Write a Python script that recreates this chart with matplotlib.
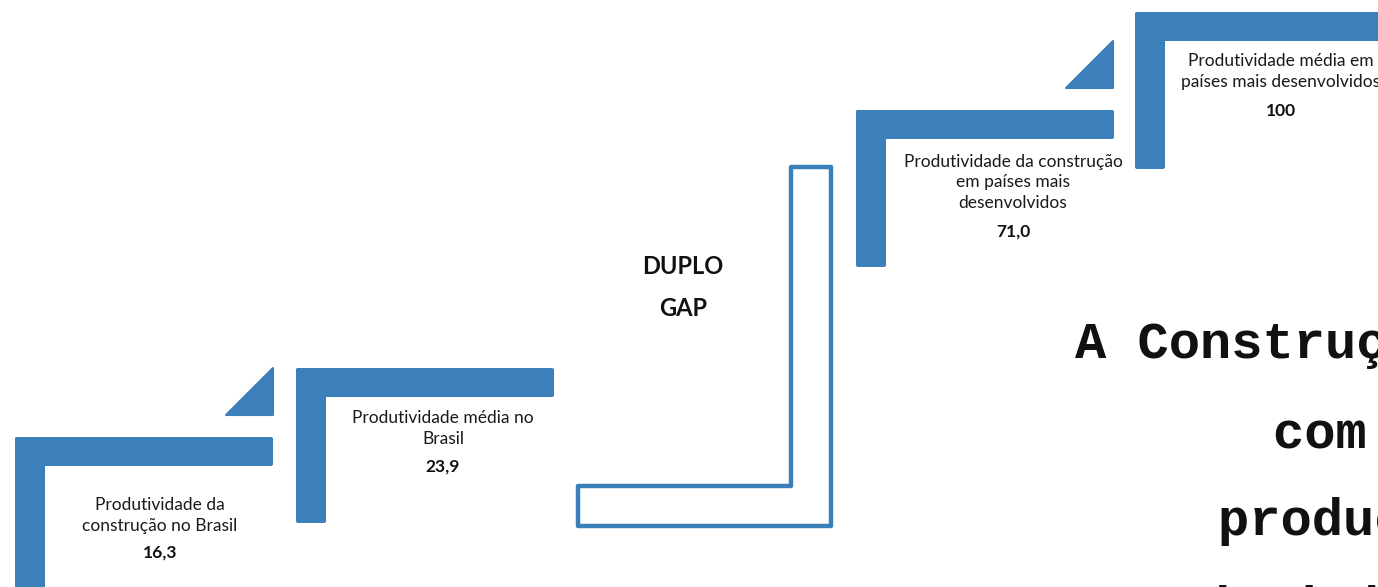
import matplotlib
matplotlib.use("Agg")
import matplotlib.pyplot as plt
from matplotlib.patches import Polygon, FancyBboxPatch

# ---- data ----
labels = [
    ["Produtividade da", "construção no Brasil"],
    ["Produtividade média no", "Brasil"],
    ["Produtividade da construção", "em países mais", "desenvolvidos"],
    ["Produtividade média em", "países mais desenvolvidos"],
]
values = ["16,3", "23,9", "71,0", "100"]
gap_label = ["DUPLO", "GAP"]
title_lines = ["A Construção Civil", "com baixa", "produção e", "produtividade"]

# ---- layout (pixel space) ----
W, H = 1378, 587
BLUE = "#3B80BB"
step_x = [15, 296, 856, 1135]          # left edge of each L
step_y = [437, 368, 110, 12]           # top edge of each L
step_bottom = [600, 523, 267, 169]     # bottom of vertical leg
arm_len = 258
thick_h = 29
thick_v = 30
label_first_y = [505, 418, 162, 61]
line_step = 20.5
value_gap = [27, 28, 29, 29]
label_cx = [160, 443, 1013, 1281]

fig = plt.figure(figsize=(W / 100, H / 100), dpi=100)
ax = fig.add_axes([0, 0, 1, 1])
ax.set_xlim(0, W)
ax.set_ylim(H, 0)
ax.axis("off")

def rbox(x0, y0, x1, y1):
    ax.add_patch(FancyBboxPatch((x0, y0), x1 - x0, y1 - y0,
                                boxstyle="round,pad=0,rounding_size=2",
                                fc=BLUE, ec="none"))

font = ["Lato", "DejaVu Sans"]
for i in range(4):
    x0, y0 = step_x[i], step_y[i]
    rbox(x0, y0, x0 + arm_len, y0 + thick_h)
    rbox(x0, y0, x0 + thick_v, step_bottom[i])
    y = label_first_y[i]
    for j, line in enumerate(labels[i]):
        ax.text(label_cx[i], y + j * line_step, line, ha="center", va="center",
                fontsize=12.5, family=font, color="#1a1a1a")
    last_y = y + (len(labels[i]) - 1) * line_step
    ax.text(label_cx[i], last_y + value_gap[i], values[i], ha="center",
            va="center", fontsize=12.5, family=font, fontweight="bold",
            color="#111111")

# triangles between steps
for (xr, yb) in [(273, 415), (1113, 88)]:
    ax.add_patch(Polygon([(xr - 47, yb), (xr, yb - 47), (xr, yb)], closed=True,
                         fc=BLUE, ec=BLUE, lw=1.5, joinstyle="round"))

# outlined L (gap)
gap_poly = [(578, 486), (578, 526), (831, 526), (831, 167), (791, 167), (791, 486)]
ax.add_patch(Polygon(gap_poly, closed=True, fc="none", ec=BLUE, lw=3.2,
                     joinstyle="round"))
for s, y in zip(gap_label, [266, 308]):
    ax.text(683, y, s, ha="center", va="center", fontsize=17,
            family=font, fontweight="bold", color="#111111")

# big title (clipped at right edge, as in the reference)
title_x = [1075, 1273, 1218, 1105]
title_base = [358, 447, 535, 623]
for s, x, y in zip(title_lines, title_x, title_base):
    ax.text(x, y, s, ha="left", va="baseline", fontsize=37.5,
            family=["Liberation Mono", "DejaVu Sans Mono"], fontweight="bold",
            color="#111111")

fig.savefig("out.png", dpi=100)
